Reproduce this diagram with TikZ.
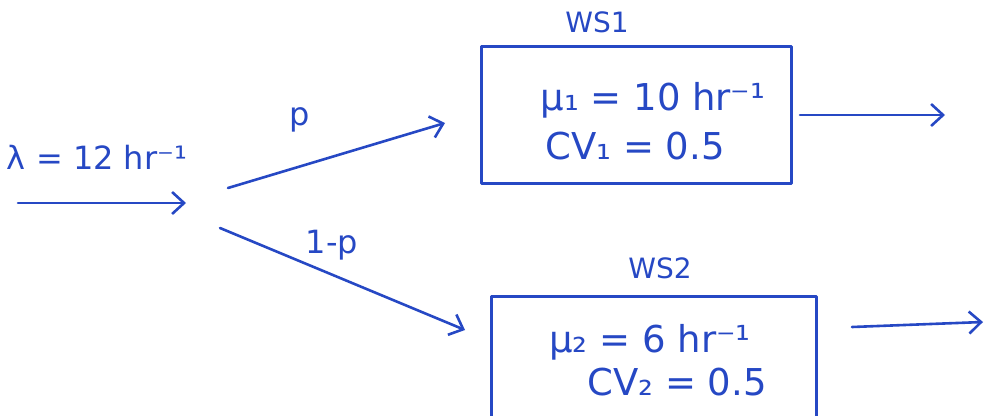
\documentclass[tikz,border=0pt]{standalone}
\usepackage{fontspec}
\setmainfont{DejaVu Sans}
\usetikzlibrary{arrows.meta}
\definecolor{ink}{RGB}{38,72,196}
\begin{document}
\begin{tikzpicture}[x=1pt,y=-1pt,
  ink/.style={draw=ink,line width=2.6pt,line cap=round,line join=round},
  flow/.style={ink,-{Straight Barb[length=12pt,width=22pt,line width=2.6pt]}},
  wsbox/.style={ink,rectangle,inner sep=0pt},
  lbl/.style={text=ink,inner sep=0pt},
  big/.style={font=\fontsize{37}{42}\selectfont},
  mid/.style={font=\fontsize{32}{36}\selectfont},
  small/.style={font=\fontsize{28}{32}\selectfont}]
\useasboundingbox (0,0) rectangle (985,415);
\clip (0,0) rectangle (985,415);
% input
\coordinate (in0) at (18,203);
\coordinate (in1) at (186,203);
\draw[flow] (in0) -- (in1);
\node[lbl,mid,anchor=center] (lam) at (97,157) {λ = 12 hr⁻¹};
% split points
\coordinate (s1) at (228,188);
\coordinate (s2) at (220,228);
% boxes
\node[wsbox,minimum width=310pt,minimum height=137pt,anchor=north west] (ws1) at (480,45) {};
\node[lbl,big] (m1) at (653,100) {μ₁ = 10 hr⁻¹};
\node[lbl,big] (c1) at (635,146) {CV₁ = 0.5};
\node[lbl,small] (t1) at (597,22) {WS1};
\node[wsbox,minimum width=325pt,minimum height=135pt,anchor=north west] (ws2) at (490,295) {};
\node[lbl,big] (m2) at (650,342) {μ₂ = 6 hr⁻¹};
\node[lbl,big] (c2) at (677,382) {CV₂ = 0.5};
\node[lbl,small] (t2) at (660,268) {WS2};
% branches
\coordinate (e1) at (445,123);
\coordinate (e2) at (465,330);
\draw[flow] (s1) -- (e1);
\draw[flow] (s2) -- (e2);
\node[lbl,mid] (p) at (300,120) {p};
\node[lbl,mid] (q) at (332,245) {1-p};
% outputs
\coordinate (o1s) at (800,115);
\coordinate (o1) at (945,115);
\draw[flow] (o1s) -- (o1);
\coordinate (o2s) at (852,327);
\coordinate (o2) at (983,322);
\draw[flow] (o2s) -- (o2);
\end{tikzpicture}
\end{document}
